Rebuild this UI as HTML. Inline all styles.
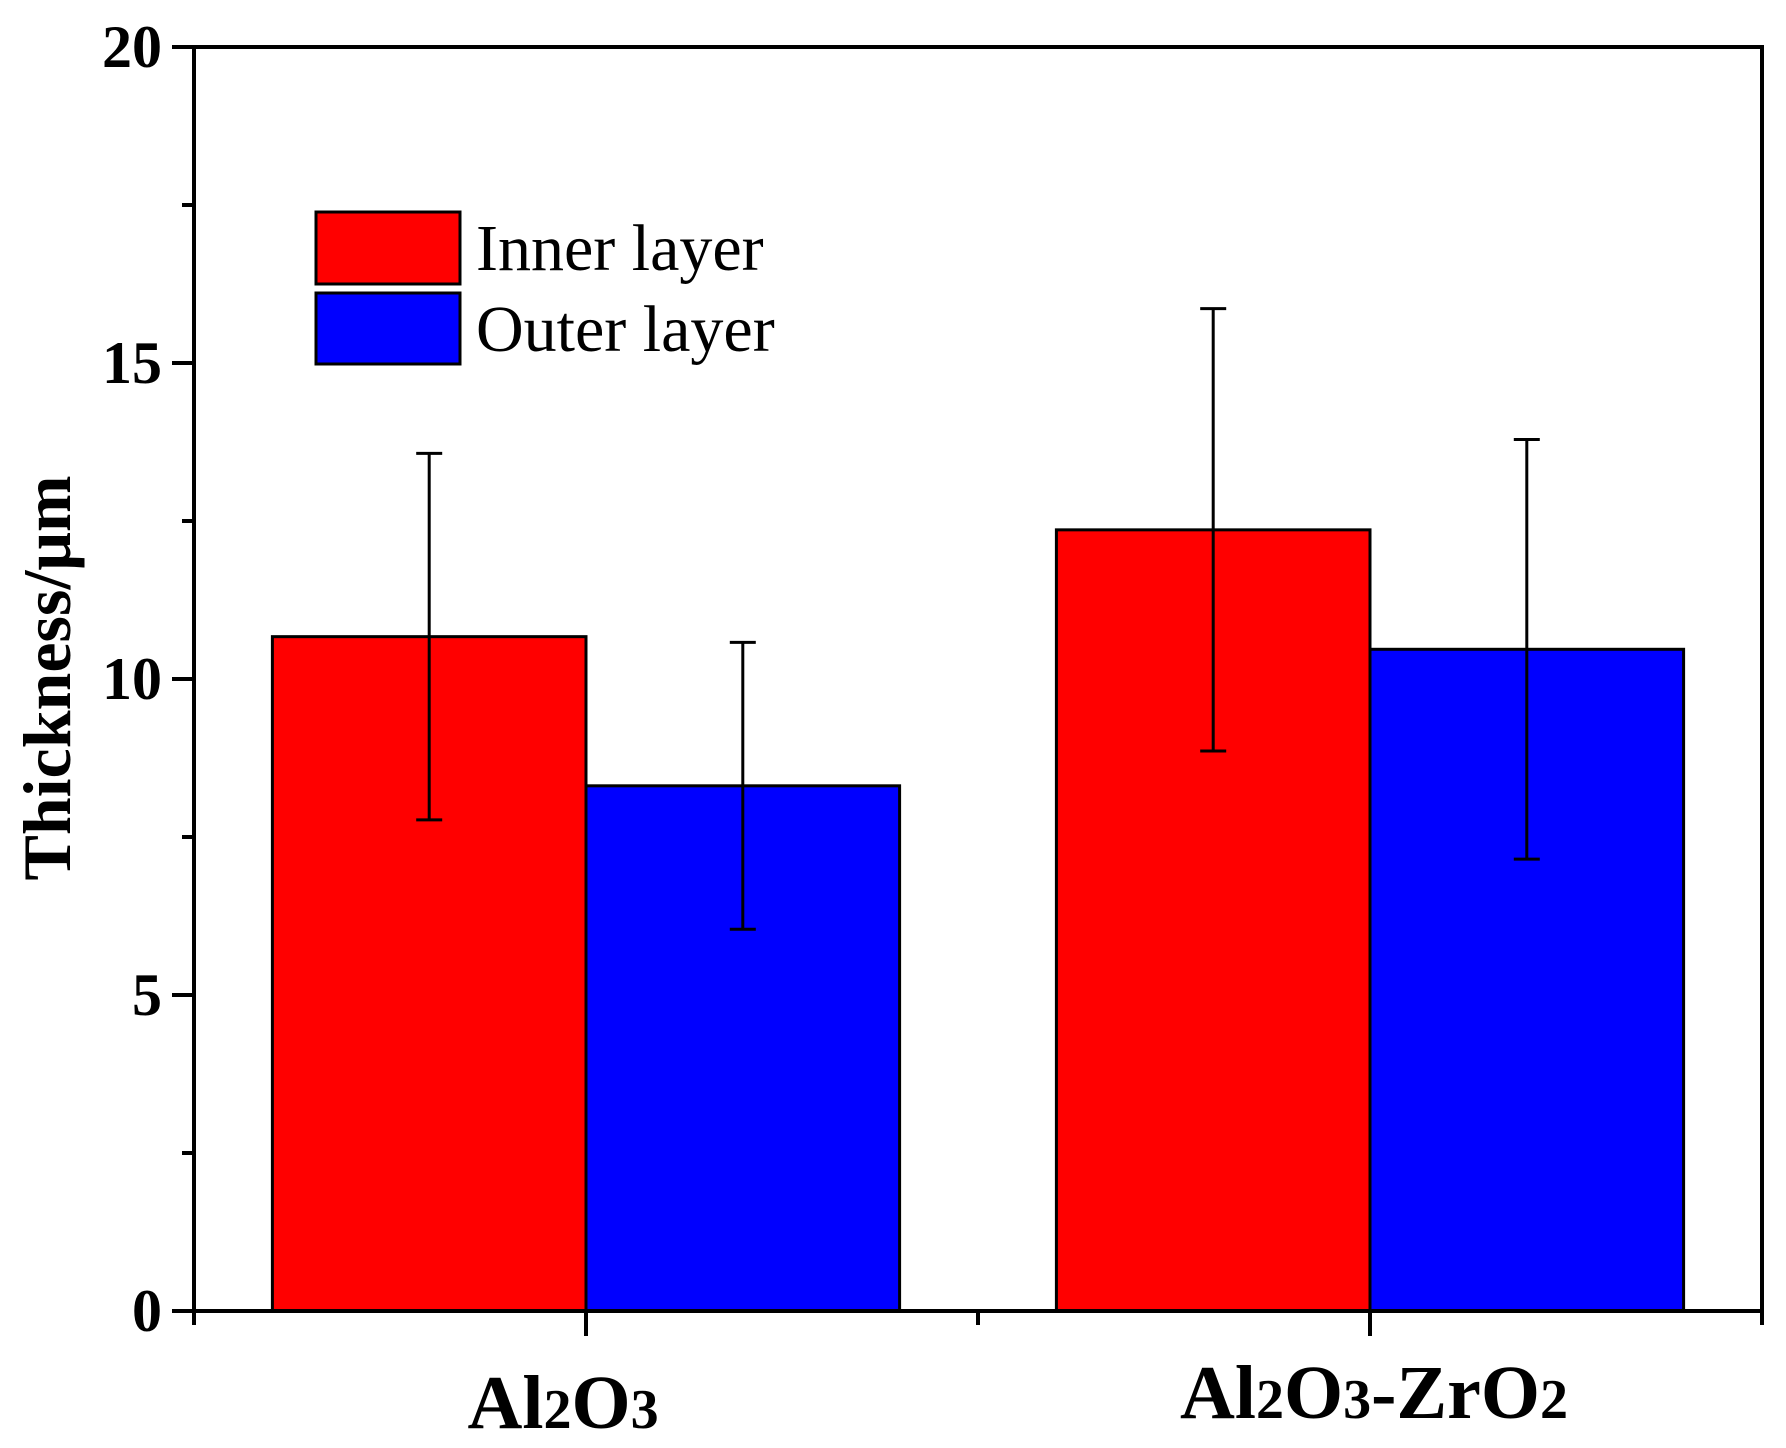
<!DOCTYPE html>
<html><head><meta charset="utf-8"><style>
html,body{margin:0;padding:0;background:#fff;}
svg{display:block;}
text{font-family:"Liberation Serif",serif;fill:#000;}
</style></head><body>
<svg id="chart" width="1786" height="1448" viewBox="0 0 1786 1448">
<g id="plot"></g>
<g font-weight="bold" font-size="76">
<text x="563" y="1428" text-anchor="middle">Al<tspan font-size="56">2</tspan>O<tspan font-size="56">3</tspan></text>
<text x="1374" y="1418" text-anchor="middle">Al<tspan font-size="56">2</tspan>O<tspan font-size="56">3</tspan>-ZrO<tspan font-size="56">2</tspan></text>
</g>
<text transform="translate(70,678) rotate(-90)" text-anchor="middle" font-size="68" font-weight="bold">Thickness/μm</text>
<g>
<rect x="316" y="212" width="144" height="72" fill="#ff0000" stroke="#000" stroke-width="3"/>
<rect x="316" y="293" width="144" height="71" fill="#0000ff" stroke="#000" stroke-width="3"/>
<text x="476" y="270" font-size="66">Inner layer</text>
<text x="476" y="351" font-size="66">Outer layer</text>
</g>
</svg>
<script>
const categories = ["Al2O3", "Al2O3-ZrO2"];
const seriesNames = ["Inner layer", "Outer layer"];
const innerValues = [10.67, 12.36];
const outerValues = [8.31, 10.47];
const innerErrors = [2.9, 3.5];
const outerErrors = [2.27, 3.32];
const yTickLabels = [0, 5, 10, 15, 20];

const NS = "http://www.w3.org/2000/svg";
const g = document.getElementById("plot");
const X0 = 194, X1 = 1762, Y0 = 1311, Y1 = 47;
const yMax = 20, xMin = 0.5, xMax = 2.5;
const ys = v => Y0 - (v / yMax) * (Y0 - Y1);
const xs = v => X0 + (v - xMin) / (xMax - xMin) * (X1 - X0);
const colors = ["#ff0000", "#0000ff"];
const barW = 0.4;

function mk(tag, attrs, parent) {
  const e = document.createElementNS(NS, tag);
  for (const k in attrs) e.setAttribute(k, attrs[k]);
  (parent || g).appendChild(e);
  return e;
}

const series = [innerValues, outerValues];
const errs = [innerErrors, outerErrors];
categories.forEach((c, i) => {
  series.forEach((vals, s) => {
    const xl = xs(i + 1 - barW + s * barW), xr = xs(i + 1 + s * barW);
    const r = mk("rect", {x: xl, y: ys(vals[i]), width: xr - xl, height: Y0 - ys(vals[i]), fill: colors[s], stroke: "#000", "stroke-width": 3});
    
    
  });
});
categories.forEach((c, i) => {
  series.forEach((vals, s) => {
    const cx = xs(i + 1 - barW / 2 + s * barW);
    const eg = mk("g", {stroke: "#000", "stroke-width": 3});
    
    
    const top = ys(vals[i] + errs[s][i]), bot = ys(vals[i] - errs[s][i]);
    mk("line", {x1: cx, x2: cx, y1: top, y2: bot}, eg);
    mk("line", {x1: cx - 13, x2: cx + 13, y1: top, y2: top}, eg);
    mk("line", {x1: cx - 13, x2: cx + 13, y1: bot, y2: bot}, eg);
  });
});

const ax = mk("g", {stroke: "#000", "stroke-width": 4, fill: "none"});


mk("path", {d: `M${X0},${Y1} H${X1} V${Y0} H${X0} Z`}, ax);
yTickLabels.forEach(v => {
  mk("line", {x1: X0 - 22, x2: X0, y1: ys(v), y2: ys(v)}, ax);
  const t = mk("text", {x: X0 - 32, y: ys(v) + 20, "text-anchor": "end", "font-size": 60, "font-weight": "bold"});
  t.textContent = v;
  
  
});
for (let v = 2.5; v < yMax; v += 5) mk("line", {x1: X0 - 12, x2: X0, y1: ys(v), y2: ys(v)}, ax);
categories.forEach((c, i) => mk("line", {x1: xs(i + 1), x2: xs(i + 1), y1: Y0, y2: Y0 + 25}, ax));
[0.5, 1.5, 2.5].forEach(v => mk("line", {x1: xs(v), x2: xs(v), y1: Y0, y2: Y0 + 14}, ax));
</script>
</body></html>
